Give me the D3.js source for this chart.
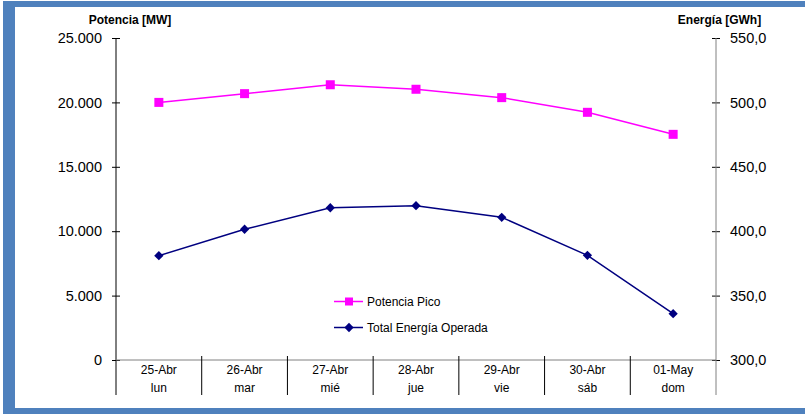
<!DOCTYPE html>
<html><head><meta charset="utf-8">
<script src="https://cdn.jsdelivr.net/npm/d3@7"></script>
<style>body{margin:0;background:#fff}svg{display:block;font-family:"Liberation Sans",Arial,sans-serif}</style>
</head><body><svg id="c" width="805" height="414"></svg>
<script>
const fechas = ["25-Abr","26-Abr","27-Abr","28-Abr","29-Abr","30-Abr","01-May"];
const dias = ["lun","mar","mié","jue","vie","sáb","dom"];
const potenciaPico = [20000, 20680, 21370, 21020, 20370, 19230, 17520];
const energiaOperada = [381.0, 401.5, 418.2, 419.8, 410.8, 381.3, 336.0];
const ticksIzq = [0, 5000, 10000, 15000, 20000, 25000];
const ticksDer = [300, 350, 400, 450, 500, 550];

const svg = d3.select("#c");
const W = 805, H = 414;
// frame
svg.append("rect").attr("x",0).attr("y",0).attr("width",W).attr("height",H).attr("fill","#fff");
svg.append("rect").attr("x",3).attr("y",1).attr("width",W-3).attr("height",6).attr("fill","#4F81BD");
svg.append("rect").attr("x",3).attr("y",1).attr("width",12).attr("height",H-1).attr("fill","#4F81BD");
svg.append("rect").attr("x",3).attr("y",408).attr("width",W-3).attr("height",6).attr("fill","#4F81BD");

const x0 = 116, x1 = 716, yTop = 38, yBot = 360;
const x = d3.scaleBand().domain(fechas).range([x0, x1]);
const yL = d3.scaleLinear().domain([0, 25000]).range([yBot, yTop]);
const yR = d3.scaleLinear().domain([300, 550]).range([yBot, yTop]);
const fmtL = v => v === 0 ? "0" : d3.format(",")(v).replace(/,/g, ".");
const fmtR = v => d3.format(".1f")(v).replace(".", ",");

// left axis
const gL = svg.append("g").attr("transform", `translate(${x0},0)`)
  .call(d3.axisLeft(yL).tickValues(ticksIzq).tickFormat(fmtL).tickSizeInner(4).tickSizeOuter(0).tickPadding(10));
gL.select(".domain").remove();
gL.selectAll(".tick line").attr("x1", 4).attr("x2", -4).attr("stroke", "#000");
gL.selectAll(".tick text").attr("font-size", 14.5).attr("fill", "#000").attr("font-family","Liberation Sans, Arial, sans-serif");
svg.append("line").attr("x1", x0).attr("x2", x0).attr("y1", yTop).attr("y2", 395).attr("stroke", "#000");

// right axis
const gR = svg.append("g").attr("transform", `translate(${x1},0)`)
  .call(d3.axisRight(yR).tickValues(ticksDer).tickFormat(fmtR).tickSizeInner(4).tickSizeOuter(0).tickPadding(10));
gR.select(".domain").remove();
gR.selectAll(".tick line").attr("x1", -4).attr("x2", 4).attr("stroke", "#000");
gR.selectAll(".tick text").attr("font-size", 14.5).attr("fill", "#000").attr("font-family","Liberation Sans, Arial, sans-serif");
svg.append("line").attr("x1", x1).attr("x2", x1).attr("y1", yTop).attr("y2", 395).attr("stroke", "#808080");

// x axis
svg.append("line").attr("x1", x0).attr("x2", x1).attr("y1", yBot).attr("y2", yBot).attr("stroke", "#808080");
const bounds = fechas.slice(1).map(f => x(f));
svg.selectAll(".sep").data(bounds).enter().append("line")
  .attr("x1", d => d).attr("x2", d => d).attr("y1", yBot - 4).attr("y2", 395).attr("stroke", "#000");
svg.selectAll(".f1").data(fechas).enter().append("text")
  .attr("x", d => x(d) + x.bandwidth()/2).attr("y", 374).attr("text-anchor","middle")
  .attr("font-size", 12).text(d => d);
svg.selectAll(".f2").data(dias).enter().append("text")
  .attr("x", (d,i) => x(fechas[i]) + x.bandwidth()/2).attr("y", 392).attr("text-anchor","middle")
  .attr("font-size", 12).text(d => d);

// axis titles
svg.append("text").attr("x", 130).attr("y", 24).attr("text-anchor","middle").attr("font-size", 12).attr("font-weight","bold").text("Potencia [MW]");
svg.append("text").attr("x", 719.5).attr("y", 24).attr("text-anchor","middle").attr("font-size", 12).attr("font-weight","bold").text("Energía [GWh]");

const cx = (d,i) => x(fechas[i]) + x.bandwidth()/2;
// Potencia line
svg.append("path").datum(potenciaPico)
  .attr("d", d3.line().x(cx).y(d => yL(d)))
  .attr("fill","none").attr("stroke","#FF00FF").attr("stroke-width",1.5);
svg.selectAll(".sq").data(potenciaPico).enter().append("rect")
  .attr("x", (d,i) => cx(d,i) - 4.5).attr("y", d => yL(d) - 4.5).attr("width", 9).attr("height", 9).attr("fill","#FF00FF");
// Energia line
svg.append("path").datum(energiaOperada)
  .attr("d", d3.line().x(cx).y(d => yR(d)))
  .attr("fill","none").attr("stroke","#000080").attr("stroke-width",1.5);
const diamond = d3.symbol().type(d3.symbolDiamond2).size(55);
svg.selectAll(".dm").data(energiaOperada).enter().append("path")
  .attr("d", diamond).attr("transform", (d,i) => `translate(${cx(d,i)},${yR(d)})`).attr("fill","#000080");

// legend
const leg = [{name:"Potencia Pico", color:"#FF00FF", m:"sq"}, {name:"Total Energía Operada", color:"#000080", m:"dm"}];
leg.forEach((l, i) => {
  const y = 301.5 + i*26;
  svg.append("line").attr("x1", 334).attr("x2", 363).attr("y1", y).attr("y2", y).attr("stroke", l.color).attr("stroke-width", 1.5);
  if (l.m === "sq") svg.append("rect").attr("x", 349-4).attr("y", y-4).attr("width", 8).attr("height", 8).attr("fill", l.color);
  else svg.append("path").attr("d", diamond).attr("transform", `translate(349,${y})`).attr("fill", l.color);
  svg.append("text").attr("x", 367).attr("y", y + 4.5).attr("font-size", 12).text(l.name);
});
</script></body></html>
